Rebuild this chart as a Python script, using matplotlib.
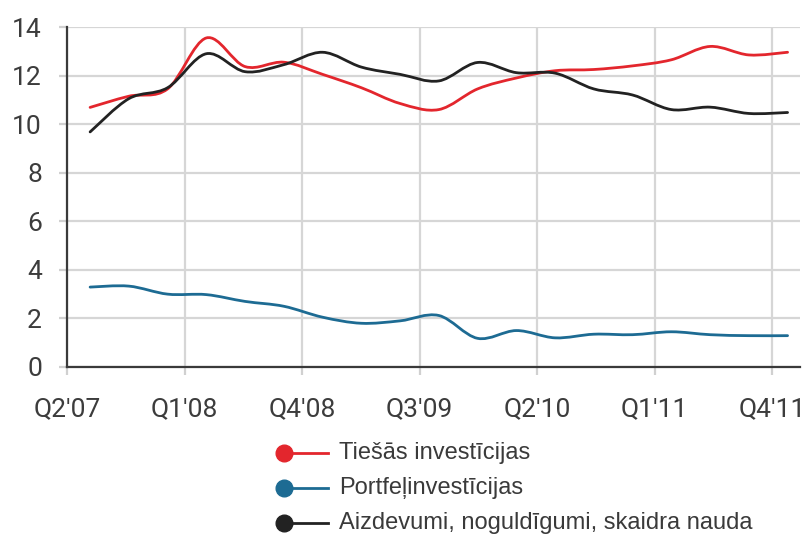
import numpy as np
import matplotlib.pyplot as plt
from matplotlib.path import Path
from matplotlib.patches import PathPatch

# quarterly values, bn EUR
tiesas = [10.69, 11.15, 11.45, 13.55, 12.37, 12.55, 12.05, 11.5, 10.85, 10.6,
          11.45, 11.9, 12.2, 12.25, 12.4, 12.65, 13.2, 12.85, 12.96]
portfelis = [3.29, 3.33, 3.0, 2.98, 2.7, 2.5, 2.05, 1.8, 1.9, 2.12,
             1.18, 1.5, 1.2, 1.35, 1.33, 1.45, 1.33, 1.29, 1.29]
aizdevumi = [9.68, 11.05, 11.5, 12.9, 12.16, 12.45, 12.96, 12.35, 12.05, 11.78,
             12.54, 12.12, 12.1, 11.45, 11.2, 10.6, 10.7, 10.44, 10.48]

quarter_labels = ["Q2'07", "Q1'08", "Q4'08", "Q3'09", "Q2'10", "Q1'11", "Q4'11"]
series_names = ["Tiešās investīcijas", "Portfeļinvestīcijas",
                "Aizdevumi, noguldīgumi, skaidra nauda"]
colors = ["#e3262d", "#1d6b93", "#222222"]


def smooth_path(xs, ys):
    """Smoothed line through every point (cubic Bezier, Catmull-Rom tangents)."""
    pts = np.column_stack([xs, ys])
    padded = np.vstack([pts[0], pts, pts[-1]])
    verts = [pts[0]]
    codes = [Path.MOVETO]
    for i in range(len(pts) - 1):
        p0, p1, p2, p3 = padded[i], padded[i + 1], padded[i + 2], padded[i + 3]
        verts += [p1 + (p2 - p0) / 6, p2 - (p3 - p1) / 6, p2]
        codes += [Path.CURVE4] * 3
    return Path(verts, codes)


fig = plt.figure(figsize=(8.11, 5.37), dpi=100)
ax = fig.add_axes([0.0826, 0.3166, 0.9034, 0.6331])

x = 0.59 + 0.989 * np.arange(len(tiesas))
for vals, c in zip([tiesas, portfelis, aizdevumi], colors):
    ax.add_patch(PathPatch(smooth_path(x, vals), facecolor="none", edgecolor=c,
                           lw=2.0, capstyle="round", zorder=3))

ax.set_xlim(0, 18.7)
ax.set_ylim(0, 14)
ax.set_xticks(np.arange(0, 19, 3))
ax.set_xticklabels(quarter_labels)
ax.set_yticks(np.arange(0, 15, 2))

ax.grid(color="#d6d6d6", lw=1.6)
ax.set_axisbelow(True)
for s in ["top", "right"]:
    ax.spines[s].set_visible(False)
for s in ["left", "bottom"]:
    ax.spines[s].set_color("#3a3a3a")
    ax.spines[s].set_linewidth(1.6)
    ax.spines[s].set_zorder(4)

ax.tick_params(axis="both", length=6, width=1.6, color="#d0d0d0",
               labelcolor="#3c3c3c")
ax.tick_params(axis="y", pad=12)
ax.tick_params(axis="x", pad=16)
for lab in ax.get_xticklabels() + ax.get_yticklabels():
    lab.set_fontfamily("Roboto")
    lab.set_fontsize(19)

# legend drawn by hand: dot at the left end of a short line
lax = fig.add_axes([0, 0, 1, 1])
lax.set_xlim(0, 811)
lax.set_ylim(537, 0)
lax.axis("off")
for i, (name, c) in enumerate(zip(series_names, colors)):
    y = 453 + 35 * i
    lax.plot([284, 328], [y, y], color=c, lw=2)
    lax.plot(284, y, "o", ms=12, color=c)
    lax.text(339, y, name, va="center", ha="left", fontsize=17,
             family="Liberation Sans", color="#3a3a3a")

fig.savefig("out.png", dpi=100)
